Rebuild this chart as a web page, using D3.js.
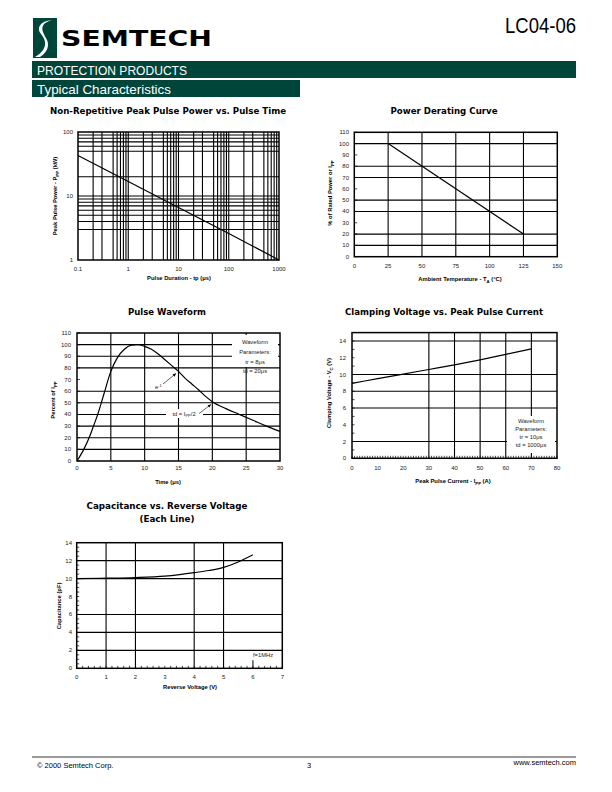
<!DOCTYPE html>
<html><head><meta charset="utf-8">
<script src="https://cdn.jsdelivr.net/npm/d3@7"></script>
<style>body{margin:0;background:#fff}svg{display:block}</style>
</head><body>
<svg id="s" width="612" height="792"></svg>
<script>
// ---------- DATA ----------
// Chart 1: Non-Repetitive Peak Pulse Power vs. Pulse Time
const pulseTimeUs = [0.1, 1, 10, 100, 1000];
const peakPowerKW = [43, 16.8, 6.6, 2.6, 1];
const c1XTicks = [0.1, 1, 10, 100, 1000];
const c1YTicks = [1, 10, 100];
const c1XGrid = [0.2,0.3,0.5,0.6,0.7,0.8,0.9,1,2,3,5,6,7,8,9,10,20,30,50,60,70,80,90,100,200,300,500,600,700,800,900];
const c1YGrid = [3,4,5,6,7,8,9,10,20,50,60,70,80,90];

// Chart 2: Power Derating Curve
const ambientTempC = [25, 125];
const ratedPowerPct = [100, 20];
const c2XTicks = [0, 25, 50, 75, 100, 125, 150];
const c2YTicks = [0,10,20,30,40,50,60,70,80,90,100,110];
const c2XGrid = [25, 50, 75, 100, 125];
const c2YGrid = [10, 20, 40, 50, 70, 80, 100];

// Chart 3: Pulse Waveform
const waveTimeUs = [0, 1, 2, 2.5, 3, 4, 5, 6, 7, 8, 9, 10, 11, 12, 13, 14, 15, 16, 17, 18, 19, 20, 22, 24, 26, 28, 30];
const wavePctIpp = [0, 10, 23, 31, 39, 58, 77, 89, 96, 99.5, 100, 98.5, 96, 92, 87, 82, 77, 71, 66, 61, 55.5, 51, 45, 40, 35, 30, 25.5];
const c3XTicks = [0, 5, 10, 15, 20, 25, 30];
const c3YTicks = [0,10,20,30,40,50,60,70,80,90,100,110];
const c3XGrid = [5, 10, 15, 20, 25];
const c3YGrid = [10, 20, 30, 40, 50, 60, 80, 90, 100];

// Chart 4: Clamping Voltage vs. Peak Pulse Current
const peakCurrentA = [0, 10, 20, 30, 40, 50, 60, 70];
const clampVoltageV = [8.95, 9.5, 10.05, 10.6, 11.15, 11.75, 12.4, 13.05];
const c4XTicks = [0, 10, 20, 30, 40, 50, 60, 70, 80];
const c4YTicks = [0, 2, 4, 6, 8, 10, 12, 14];
const c4XGrid = [30, 40, 50, 60, 70];
const c4YGrid = [2, 6, 8, 10, 14];

// Chart 5: Capacitance vs. Reverse Voltage
const reverseVoltageV = [0, 1, 2, 3, 3.5, 4, 4.5, 5, 5.5, 6];
const capacitancePF = [10.0, 10.05, 10.12, 10.28, 10.45, 10.66, 10.9, 11.25, 11.85, 12.65];
const c5XTicks = [0, 1, 2, 3, 4, 5, 6, 7];
const c5YTicks = [0, 2, 4, 6, 8, 10, 12, 14];
const c5XGrid = [1, 2, 4, 5];
const c5YGrid = [2, 4, 6, 10, 12];

// ---------- DRAWING ----------
const svg = d3.select('#s');
const GREEN = '#00453a';
const TF = "'Liberation Sans', Arial, sans-serif";
const HF = "'DejaVu Sans', sans-serif";

// Header
const logo = svg.append('g');
logo.append('rect').attr('x', 33).attr('y', 18).attr('width', 24).attr('height', 40).attr('fill', GREEN);
logo.append('path').attr('d', 'M52,20 C40,21 36,28 41,34 C45,39 47,44 43,50 C41,53 38,55 35,57 L40,57 C46,53 50,47 47,40 C44,34 40,29 44,24 C46,22 49,21 52,20 Z').attr('fill', '#fff');
svg.append('text').attr('x', 61).attr('y', 46).text('SEMTECH')
  .attr('font-family', HF).attr('font-weight', 'bold').attr('font-size', 20.5)
  .attr('textLength', 151).attr('lengthAdjust', 'spacingAndGlyphs');
svg.append('text').attr('x', 505).attr('y', 33).text('LC04-06')
  .attr('font-family', TF).attr('font-size', 21.5)
  .attr('textLength', 71).attr('lengthAdjust', 'spacingAndGlyphs');
svg.append('rect').attr('x', 32).attr('y', 61).attr('width', 544).attr('height', 17).attr('fill', GREEN);
svg.append('text').attr('x', 37).attr('y', 74.5).text('PROTECTION PRODUCTS').attr('fill', '#fff')
  .attr('font-family', TF).attr('font-size', 13)
  .attr('textLength', 150).attr('lengthAdjust', 'spacingAndGlyphs');
svg.append('rect').attr('x', 32).attr('y', 80).attr('width', 268).attr('height', 17).attr('fill', GREEN);
svg.append('text').attr('x', 37).attr('y', 93.5).text('Typical Characteristics').attr('fill', '#fff')
  .attr('font-family', TF).attr('font-size', 13)
  .attr('textLength', 134).attr('lengthAdjust', 'spacingAndGlyphs');

// Footer
svg.append('line').attr('x1', 32).attr('x2', 576).attr('y1', 757).attr('y2', 757).attr('stroke', '#000').attr('stroke-width', 0.8);
svg.append('text').attr('x', 37).attr('y', 768).text('\u00A9 2000 Semtech Corp.').attr('font-family', TF).attr('font-size', 7.5);
svg.append('text').attr('x', 309).attr('y', 768).attr('text-anchor', 'middle').text('3').attr('font-family', TF).attr('font-size', 7.5);
svg.append('text').attr('x', 576).attr('y', 765).attr('text-anchor', 'end').text('www.semtech.com').attr('font-family', TF).attr('font-size', 7.5);

function title(x, y, txt, w) {
  svg.append('text').attr('x', x - w / 2).attr('y', y).text(txt)
    .attr('font-family', HF).attr('font-weight', 'bold').attr('font-size', 9)
    .attr('textLength', w).attr('lengthAdjust', 'spacingAndGlyphs');
}
function axTitle(x, y, parts, rot) {
  const t = svg.append('text').attr('text-anchor', 'middle').attr('font-family', TF)
    .attr('font-weight', 'bold').attr('font-size', 5.8)
    .attr('transform', rot ? `translate(${x},${y}) rotate(-90)` : `translate(${x},${y})`);
  parts.forEach(p => {
    const ts = t.append('tspan').text(p[0]);
    if (p[1] === 'sub') ts.attr('font-size', 4.3).attr('dy', 1.5);
    else if (p[1] === 'back') ts.attr('dy', -1.5);
  });
}
function tickLabelsX(x, vals, yb, fmt) {
  vals.forEach(v => svg.append('text').attr('x', x(v)).attr('y', yb).attr('text-anchor', 'middle')
    .text(fmt ? fmt(v) : v).attr('font-family', TF).attr('font-size', 6).attr('fill', '#222'));
}
function tickLabelsY(y, vals, xr) {
  vals.forEach(v => svg.append('text').attr('x', xr).attr('y', y(v) + 2).attr('text-anchor', 'end')
    .text(v).attr('font-family', TF).attr('font-size', 6).attr('fill', '#222'));
}
function grid(x, y, xg, yg) {
  const [x0, x1] = x.range(), [y0, y1] = y.range();
  const g = svg.append('g').attr('stroke', '#000').attr('stroke-width', 1.1);
  g.selectAll('.gx').data(xg).join('line').attr('x1', d => x(d)).attr('x2', d => x(d)).attr('y1', y0).attr('y2', y1);
  g.selectAll('.gy').data(yg).join('line').attr('y1', d => y(d)).attr('y2', d => y(d)).attr('x1', x0).attr('x2', x1);
}
function frame(x, y) {
  const [x0, x1] = x.range(), [y0, y1] = y.range();
  svg.append('rect').attr('x', x0).attr('y', y1).attr('width', x1 - x0).attr('height', y0 - y1)
    .attr('fill', 'none').attr('stroke', '#000').attr('stroke-width', 1.5);
}
function minorY(y, vals, x0, len) {
  svg.append('g').selectAll('line').data(vals).join('line').attr('x1', x0).attr('x2', x0 + len)
    .attr('y1', d => y(d)).attr('y2', d => y(d)).attr('stroke', '#000').attr('stroke-width', 0.7);
}
function minorX(x, vals, y0, len) {
  svg.append('g').selectAll('line').data(vals).join('line').attr('y1', y0).attr('y2', y0 - len)
    .attr('x1', d => x(d)).attr('x2', d => x(d)).attr('stroke', '#000').attr('stroke-width', 0.7);
}
function dataLine(x, y, xs, ys, curve) {
  const pts = xs.map((v, i) => [v, ys[i]]);
  svg.append('path').datum(pts).attr('fill', 'none').attr('stroke', '#000').attr('stroke-width', 1.2)
    .attr('d', d3.line().x(d => x(d[0])).y(d => y(d[1])).curve(curve || d3.curveLinear));
}
function note(lines, cx, ys, box) {
  svg.append('rect').attr('x', box[0]).attr('y', box[1]).attr('width', box[2]).attr('height', box[3]).attr('fill', '#fff');
  lines.forEach((l, i) => svg.append('text').attr('x', cx).attr('y', ys[i]).attr('text-anchor', 'middle')
    .text(l).attr('font-family', TF).attr('font-size', 5.8).attr('fill', '#222'));
}
function arrow(x1, y1, x2, y2) {
  svg.append('line').attr('x1', x1).attr('y1', y1).attr('x2', x2).attr('y2', y2).attr('stroke', '#000').attr('stroke-width', 0.6);
  const a = Math.atan2(y2 - y1, x2 - x1), L = 3.5, w = 0.45;
  svg.append('path').attr('fill', '#000').attr('d',
    `M${x2},${y2}L${x2 - L * Math.cos(a - w)},${y2 - L * Math.sin(a - w)}L${x2 - L * Math.cos(a + w)},${y2 - L * Math.sin(a + w)}Z`);
}

// ---- Chart 1 ----
{
  const x = d3.scaleLog().domain([0.1, 1000]).range([78, 279]);
  const y = d3.scaleLog().domain([1, 100]).range([260, 132]);
  title(168, 114, 'Non-Repetitive Peak Pulse Power vs. Pulse Time', 236);
  grid(x, y, c1XGrid, c1YGrid);
  frame(x, y);
  dataLine(x, y, pulseTimeUs, peakPowerKW);
  tickLabelsX(x, c1XTicks, 271, d => d);
  tickLabelsY(y, c1YTicks, 73);
  axTitle(179, 280, [['Pulse Duration - tp (\u03BCs)']], false);
  axTitle(57, 196, [['Peak Pulse Power - P'], ['PP', 'sub'], [' (kW)', 'back']], true);
}
// ---- Chart 2 ----
{
  const x = d3.scaleLinear().domain([0, 150]).range([354.3, 557.3]);
  const y = d3.scaleLinear().domain([0, 110]).range([256.7, 132.3]);
  title(444, 114, 'Power Derating Curve', 107);
  grid(x, y, c2XGrid, c2YGrid);
  minorY(y, c2YTicks, x.range()[0], 3);
  frame(x, y);
  dataLine(x, y, ambientTempC, ratedPowerPct);
  tickLabelsX(x, c2XTicks, 268);
  tickLabelsY(y, c2YTicks, 349);
  axTitle(460, 281, [['Ambient Temperature - T'], ['A', 'sub'], [' (\u00B0C)', 'back']], false);
  axTitle(332, 193, [['% of Rated Power or I'], ['PP', 'sub']], true);
}
// ---- Chart 3 ----
{
  const x = d3.scaleLinear().domain([0, 30]).range([77, 280]);
  const y = d3.scaleLinear().domain([0, 110]).range([461, 333]);
  title(167, 314.5, 'Pulse Waveform', 78);
  grid(x, y, c3XGrid, c3YGrid);
  minorY(y, c3YTicks, x.range()[0], 3);
  note(['Waveform', 'Parameters:', 'tr = 8\u03BCs', 'td = 20\u03BCs'], 255, [344, 354, 364, 373], [232, 335, 46, 32]);
  note([], 0, [], [166, 409, 37, 9]);
  frame(x, y);
  dataLine(x, y, waveTimeUs, wavePctIpp, d3.curveMonotoneX);
  const e = svg.append('text').attr('x', 155).attr('y', 389).attr('font-family', TF).attr('font-size', 5.8).attr('fill', '#222');
  e.append('tspan').text('e');
  e.append('tspan').text('-1').attr('font-size', 4).attr('dy', -2.5);
  arrow(163, 384, 176, 373.5);
  const td = svg.append('text').attr('x', 184).attr('y', 416).attr('text-anchor', 'middle').attr('font-family', TF).attr('font-size', 5.8).attr('fill', '#222');
  td.append('tspan').text('td = I');
  td.append('tspan').text('PP').attr('font-size', 4).attr('dy', 1.2);
  td.append('tspan').text('/2').attr('dy', -1.2);
  arrow(199, 413.5, 211, 404.5);
  tickLabelsX(x, c3XTicks, 470);
  tickLabelsY(y, c3YTicks, 71);
  axTitle(168, 484, [['Time (\u03BCs)']], false);
  axTitle(55, 400, [['Percent of I'], ['PP', 'sub']], true);
}
// ---- Chart 4 ----
{
  const x = d3.scaleLinear().domain([0, 80]).range([352, 557]);
  const y = d3.scaleLinear().domain([0, 15]).range([458.3, 332.6]);
  title(444, 314.5, 'Clamping Voltage vs. Peak Pulse Current', 198);
  grid(x, y, c4XGrid, c4YGrid);
  minorY(y, d3.range(0, 16, 1), x.range()[0], 2.5);
  minorX(x, d3.range(0, 81, 1), y.range()[0], 2.5);
  note(['Waveform', 'Parameters:', 'tr = 10\u03BCs', 'td = 1000\u03BCs'], 531, [423, 431, 439, 447], [507, 416, 48, 37]);
  frame(x, y);
  dataLine(x, y, peakCurrentA, clampVoltageV, d3.curveMonotoneX);
  tickLabelsX(x, c4XTicks, 470);
  tickLabelsY(y, c4YTicks, 346);
  axTitle(453, 483, [['Peak Pulse Current - I'], ['PP', 'sub'], [' (A)', 'back']], false);
  axTitle(331, 393, [['Clamping Voltage - V'], ['C', 'sub'], [' (V)', 'back']], true);
}
// ---- Chart 5 ----
{
  const x = d3.scaleLinear().domain([0, 7]).range([76.7, 282.3]);
  const y = d3.scaleLinear().domain([0, 14]).range([668.3, 542.7]);
  title(167, 508.5, 'Capacitance vs. Reverse Voltage', 161);
  title(167, 522, '(Each Line)', 55);
  grid(x, y, c5XGrid, c5YGrid);
  minorY(y, d3.range(0, 14.01, 0.5), x.range()[0], 2.5);
  minorX(x, d3.range(0, 7.01, 0.2), y.range()[0], 2.5);
  svg.append('line').attr('x1', x(6)).attr('x2', x(6)).attr('y1', y(0)).attr('y2', y(0.9)).attr('stroke', '#000');
  svg.append('text').attr('x', 263).attr('y', 657).attr('text-anchor', 'middle').text('f=1MHz')
    .attr('font-family', TF).attr('font-size', 5.8).attr('fill', '#222');
  frame(x, y);
  dataLine(x, y, reverseVoltageV, capacitancePF, d3.curveMonotoneX);
  tickLabelsX(x, c5XTicks, 679);
  tickLabelsY(y, c5YTicks, 72);
  axTitle(190, 689, [['Reverse Voltage (V)']], false);
  axTitle(61, 606, [['Capacitance (pF)']], true);
}
</script>
</body></html>
